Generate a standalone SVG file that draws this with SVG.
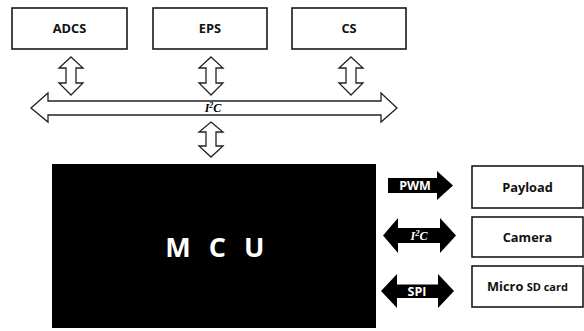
<svg xmlns="http://www.w3.org/2000/svg" width="584" height="331" viewBox="0 0 584 331">
  <style>
    .box { fill: #fff; stroke: #1a1a1a; stroke-width: 1.6; }
    .lbl { font-family: "Open Sans", "Noto Sans", "DejaVu Sans", sans-serif; font-weight: bold; font-size: 12.8px; fill: #111; text-anchor: middle; }
    .hollow { fill: #fff; stroke: #222; stroke-width: 1.3; stroke-linejoin: miter; }
    .solid { fill: #000; }
    .bus { font-family: "Liberation Serif", "DejaVu Serif", serif; font-style: italic; font-weight: bold; font-size: 12px; text-anchor: middle; }
    .wlbl { font-family: "Open Sans", "Noto Sans", sans-serif; font-weight: bold; font-size: 12.5px; fill: #fff; text-anchor: middle; }
  </style>
  <defs>
    <!-- hollow vertical double arrow, 38 tall, centred on x=0 -->
    <path id="vdbl" d="M0,0 L12,11 L5,11 L5,26 L12,26 L0,38 L-12,26 L-5,26 L-5,11 L-12,11 Z"/>
    <path id="vdblShort" d="M0,0 L12,10 L5,10 L5,24 L12,24 L0,35 L-12,24 L-5,24 L-5,10 L-12,10 Z"/>
  </defs>

  <rect width="584" height="331" fill="#fff"/>

  <g id="adcs">
    <rect class="box" x="12" y="8" width="115" height="41"/>
    <text class="lbl" x="69.5" y="33">ADCS</text>
  </g>
  <g id="eps">
    <rect class="box" x="153" y="8" width="114" height="41"/>
    <text class="lbl" x="210" y="33">EPS</text>
  </g>
  <g id="cs">
    <rect class="box" x="292" y="8" width="114" height="41"/>
    <text class="lbl" x="349" y="33">CS</text>
  </g>

  <g id="mcu">
    <rect x="52" y="164" width="324" height="164" fill="#000"/>
    <text x="217.5" y="257" font-family="Open Sans, Noto Sans, sans-serif" font-weight="bold" font-size="27" fill="#fff" text-anchor="middle" letter-spacing="5.5">M C U</text>
  </g>

  <g id="payload">
    <rect class="box" x="472" y="166" width="111" height="42"/>
    <text class="lbl" x="527.5" y="191.5">Payload</text>
  </g>
  <g id="camera">
    <rect class="box" x="472" y="217" width="111" height="40"/>
    <text class="lbl" x="527.5" y="241.5">Camera</text>
  </g>
  <g id="sdcard">
    <rect class="box" x="472" y="266" width="111" height="41"/>
    <text class="lbl" x="527.5" y="291" font-size="13.8">Micro <tspan font-size="11">SD card</tspan></text>
  </g>

  <g id="connectors">
    <!-- subsystem links to the bus -->
    <use href="#vdbl" class="hollow" x="71" y="57"/>
    <use href="#vdbl" class="hollow" x="211" y="57"/>
    <use href="#vdbl" class="hollow" x="351" y="57"/>
    <!-- I2C bus -->
    <path class="hollow" d="M31,108 L48,93 L48,101 L381,101 L381,93 L397,108 L381,122 L381,115 L48,115 L48,122 Z"/>
    <text class="bus" x="213" y="112">I<tspan font-size="8" dy="-4">2</tspan><tspan dy="4">C</tspan></text>
    <!-- bus to MCU -->
    <use href="#vdblShort" class="hollow" x="211" y="122"/>

    <!-- MCU to peripherals -->
    <path class="solid" d="M388,178 L437,178 L437,171 L453,185.5 L437,200 L437,193 L388,193 Z"/>
    <text class="wlbl" x="415" y="190">PWM</text>

    <path class="solid" d="M383,235.5 L398,218 L398,228 L440,228 L440,218 L456,235.5 L440,253 L440,243 L398,243 L398,253 Z"/>
    <text class="bus" x="419" y="240" fill="#fff" font-size="13">I<tspan font-size="8.5" dy="-4.5">2</tspan><tspan dy="4.5">C</tspan></text>

    <path class="solid" d="M381,291 L397,274 L397,284.5 L438,284.5 L438,274 L454,291 L438,308 L438,298 L397,298 L397,308 Z"/>
    <text class="wlbl" x="417" y="295.5">SPI</text>
  </g>
</svg>
